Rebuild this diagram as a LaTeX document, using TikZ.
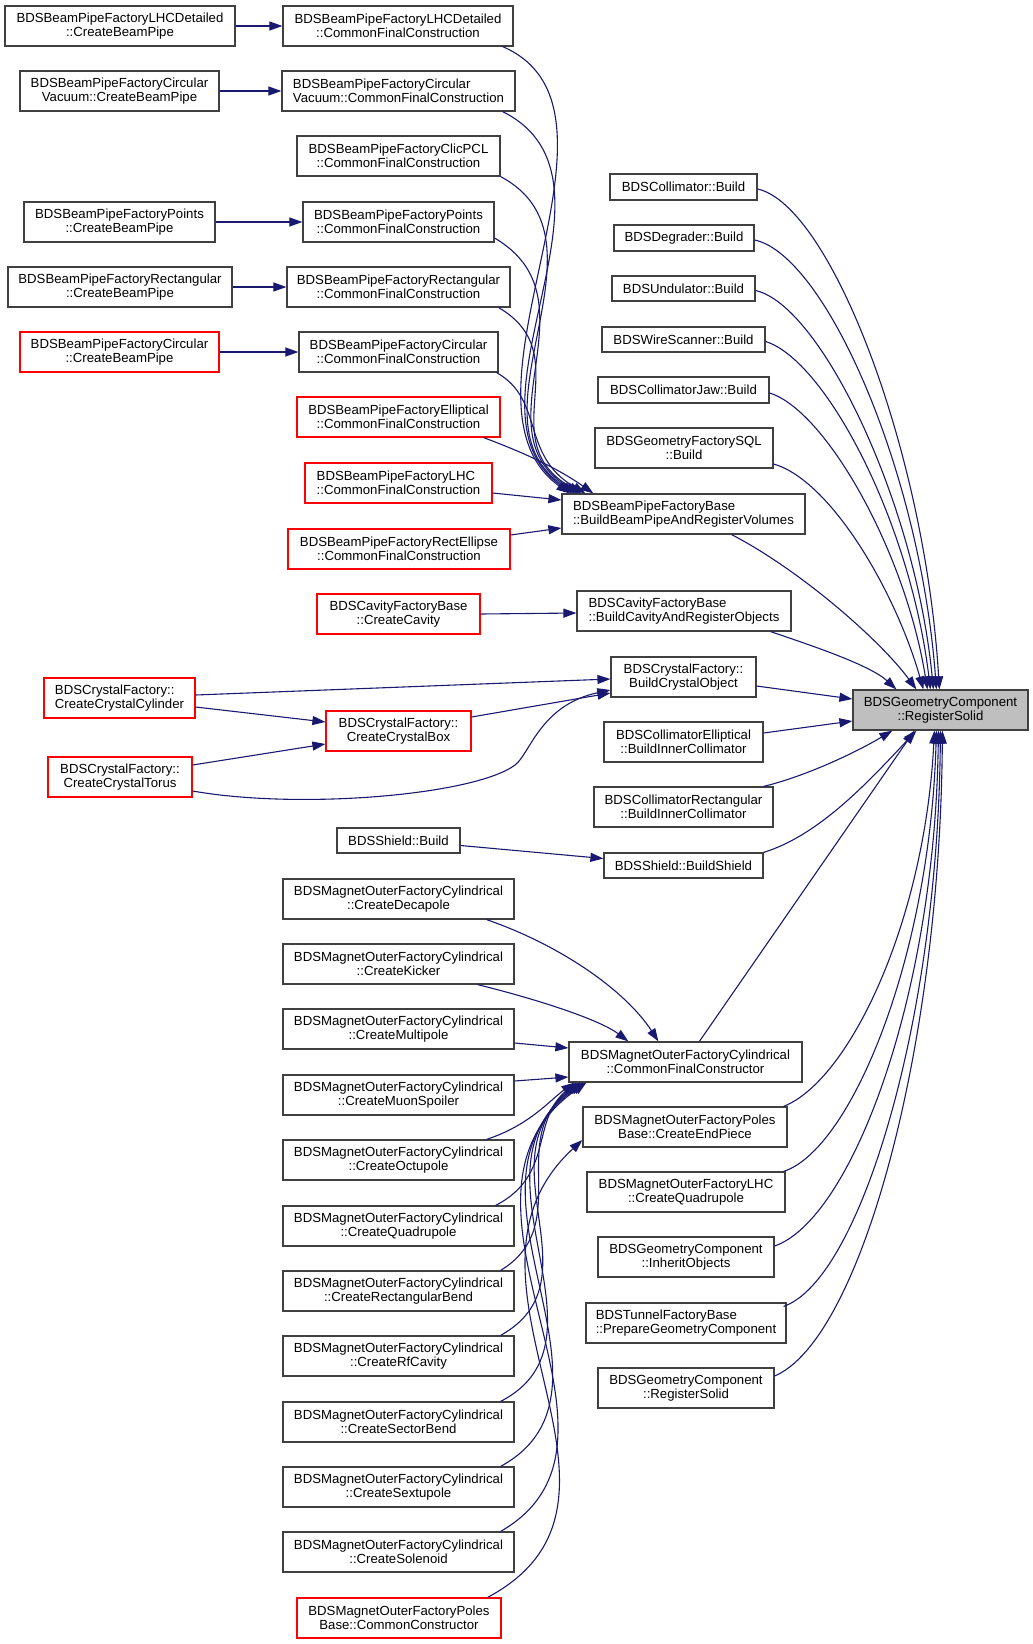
\documentclass[tikz,border=0pt]{standalone}
\usepackage{fontspec}
\setmainfont{Liberation Sans}
\usetikzlibrary{arrows.meta,calc}
\definecolor{edgeblue}{RGB}{25,25,112}
\definecolor{boxgray}{RGB}{64,64,64}
\definecolor{fillgray}{RGB}{191,191,191}
\definecolor{boxred}{RGB}{255,0,0}
\begin{document}
\begin{tikzpicture}[x=1pt,y=-1pt,
  box/.style={draw=boxgray, line width=1.2pt, fill=white, inner sep=0pt, align=center,
    font=\fontsize{13.2}{14.3}\selectfont, minimum height=40pt},
  rbox/.style={box, draw=boxred},
  gbox/.style={box, fill=fillgray},
  one/.style={minimum height=25pt},
  edge/.style={draw=edgeblue, line width=1.1pt, -{Triangle[length=13pt,width=9pt,fill=edgeblue]}}
]
\useasboundingbox (0,0) rectangle (1033,1644);

% left column
\node[box, minimum width=230pt] (n1) at (120,26) {BDSBeamPipeFactoryLHCDetailed\\::CreateBeamPipe};
\node[box, minimum width=199pt] (n2) at (119.5,91) {BDSBeamPipeFactoryCircular\\Vacuum::CreateBeamPipe};
\node[box, minimum width=191pt] (n3) at (119.5,222) {BDSBeamPipeFactoryPoints\\::CreateBeamPipe};
\node[box, minimum width=224pt] (n4) at (120,287) {BDSBeamPipeFactoryRectangular\\::CreateBeamPipe};
\node[rbox, minimum width=199pt] (n5) at (119.5,352) {BDSBeamPipeFactoryCircular\\::CreateBeamPipe};
\node[rbox, minimum width=151pt, align=left] (n6) at (119.5,698) {BDSCrystalFactory::\\CreateCrystalCylinder};
\node[rbox, minimum width=144pt] (n7) at (120,777) {BDSCrystalFactory::\\CreateCrystalTorus};

% middle column
\node[box, minimum width=230pt] (m1) at (398,26) {BDSBeamPipeFactoryLHCDetailed\\::CommonFinalConstruction};
\node[box, minimum width=233pt, align=left] (m2) at (398.5,91) {BDSBeamPipeFactoryCircular\\Vacuum::CommonFinalConstruction};
\node[box, minimum width=203pt] (m3) at (398.5,156) {BDSBeamPipeFactoryClicPCL\\::CommonFinalConstruction};
\node[box, minimum width=191pt] (m4) at (398.5,222) {BDSBeamPipeFactoryPoints\\::CommonFinalConstruction};
\node[box, minimum width=223pt] (m5) at (398.5,287) {BDSBeamPipeFactoryRectangular\\::CommonFinalConstruction};
\node[box, minimum width=199pt] (m6) at (398.5,352) {BDSBeamPipeFactoryCircular\\::CommonFinalConstruction};
\node[rbox, minimum width=203pt] (m7) at (398.5,417) {BDSBeamPipeFactoryElliptical\\::CommonFinalConstruction};
\node[rbox, minimum width=187pt, align=left] (m8) at (398.5,483) {BDSBeamPipeFactoryLHC\\::CommonFinalConstruction};
\node[rbox, minimum width=222pt] (m9) at (399,549) {BDSBeamPipeFactoryRectEllipse\\::CommonFinalConstruction};
\node[rbox, minimum width=163pt] (m10) at (398.5,614) {BDSCavityFactoryBase\\::CreateCavity};
\node[rbox, minimum width=145pt] (m11) at (398.5,731) {BDSCrystalFactory::\\CreateCrystalBox};
\node[box, one, minimum width=123pt] (m12) at (398.5,840.5) {BDSShield::Build};
\node[box, minimum width=231pt] (m13) at (398.5,899) {BDSMagnetOuterFactoryCylindrical\\::CreateDecapole};
\node[box, minimum width=231pt] (m14) at (398.5,964) {BDSMagnetOuterFactoryCylindrical\\::CreateKicker};
\node[box, minimum width=231pt] (m15) at (398.5,1029) {BDSMagnetOuterFactoryCylindrical\\::CreateMultipole};
\node[box, minimum width=231pt] (m16) at (398.5,1095) {BDSMagnetOuterFactoryCylindrical\\::CreateMuonSpoiler};
\node[box, minimum width=231pt] (m17) at (398.5,1160) {BDSMagnetOuterFactoryCylindrical\\::CreateOctupole};
\node[box, minimum width=231pt] (m18) at (398.5,1226) {BDSMagnetOuterFactoryCylindrical\\::CreateQuadrupole};
\node[box, minimum width=231pt] (m19) at (398.5,1291) {BDSMagnetOuterFactoryCylindrical\\::CreateRectangularBend};
\node[box, minimum width=231pt] (m20) at (398.5,1356) {BDSMagnetOuterFactoryCylindrical\\::CreateRfCavity};
\node[box, minimum width=231pt] (m21) at (398.5,1422) {BDSMagnetOuterFactoryCylindrical\\::CreateSectorBend};
\node[box, minimum width=231pt] (m22) at (398.5,1487) {BDSMagnetOuterFactoryCylindrical\\::CreateSextupole};
\node[box, minimum width=231pt] (m23) at (398.5,1552) {BDSMagnetOuterFactoryCylindrical\\::CreateSolenoid};
\node[rbox, minimum width=204pt] (m24) at (399,1618) {BDSMagnetOuterFactoryPoles\\Base::CommonConstructor};

% right column
\node[box, minimum height=26pt, minimum width=147pt] (r1) at (683.5,187) {BDSCollimator::Build};
\node[box, minimum height=26pt, minimum width=140pt] (r2) at (684,238) {BDSDegrader::Build};
\node[box, one, minimum width=143pt] (r3) at (683.5,288.5) {BDSUndulator::Build};
\node[box, one, minimum width=163pt] (r4) at (683.5,339.5) {BDSWireScanner::Build};
\node[box, minimum height=26pt, minimum width=171pt] (r5) at (683.5,390) {BDSCollimatorJaw::Build};
\node[box, minimum width=178pt] (r6) at (684,448) {BDSGeometryFactorySQL\\::Build};
\node[box, minimum width=243pt, align=left] (r7) at (683.5,514) {BDSBeamPipeFactoryBase\\::BuildBeamPipeAndRegisterVolumes};
\node[box, minimum width=214pt, align=left] (r8) at (684,611) {BDSCavityFactoryBase\\::BuildCavityAndRegisterObjects};
\node[box, minimum width=145pt] (r9) at (683.5,677) {BDSCrystalFactory::\\BuildCrystalObject};
\node[box, minimum width=159pt] (r10) at (683.5,742) {BDSCollimatorElliptical\\::BuildInnerCollimator};
\node[box, minimum width=179pt] (r11) at (683.5,807) {BDSCollimatorRectangular\\::BuildInnerCollimator};
\node[box, one, minimum width=159pt] (r12) at (683.5,865.5) {BDSShield::BuildShield};
\node[box, minimum width=233pt] (r13) at (685.5,1062) {BDSMagnetOuterFactoryCylindrical\\::CommonFinalConstructor};
\node[box, minimum width=204pt] (r14) at (685,1127) {BDSMagnetOuterFactoryPoles\\Base::CreateEndPiece};
\node[box, minimum width=198pt] (r15) at (686,1192) {BDSMagnetOuterFactoryLHC\\::CreateQuadrupole};
\node[box, minimum width=176pt] (r16) at (686,1257) {BDSGeometryComponent\\::InheritObjects};
\node[box, minimum width=200pt, align=left] (r17) at (686,1323) {BDSTunnelFactoryBase\\::PrepareGeometryComponent};
\node[box, minimum width=176pt] (r18) at (686,1388) {BDSGeometryComponent\\::RegisterSolid};

\node[gbox, minimum width=175pt] (g) at (940.5,710) {BDSGeometryComponent\\::RegisterSolid};

% left -> middle
\draw[edge] (n1.east) -- (m1.west);
\draw[edge] (n2.east) -- (m2.west);
\draw[edge] (n3.east) -- (m4.west);
\draw[edge] (n4.east) -- (m5.west);
\draw[edge] (n5.east) -- (m6.west);

% -> BuildBeamPipeAndRegisterVolumes
\draw[edge] ($(m1.south east)+(-11,0)$) .. controls (650,110) and (440,400) .. ($(r7.north west)+(8,0)$);
\draw[edge] ($(m2.south east)+(-13,0)$) .. controls (640,180) and (450,410) .. ($(r7.north west)+(11,0)$);
\draw[edge] (m3.south east) .. controls (620,240) and (460,420) .. ($(r7.north west)+(14,0)$);
\draw[edge] ($(m4.east)+(0,16)$) .. controls (600,300) and (475,430) .. ($(r7.north west)+(17,0)$);
\draw[edge] ($(m5.south east)+(-12,0)$) .. controls (580,355) and (490,440) .. ($(r7.north west)+(20,0)$);
\draw[edge] ($(m6.south east)+(-2,0)$) .. controls (545,400) and (520,455) .. ($(r7.north west)+(24,0)$);
\draw[edge] ($(m7.south east)+(-17,0)$) .. controls (530,455) and (560,470) .. ($(r7.north west)+(32,0)$);
\draw[edge] ($(m8.east)+(0,10)$) -- ($(r7.west)+(0,-14)$);
\draw[edge] ($(m9.east)+(0,-14)$) -- ($(r7.west)+(0,14)$);

% cavity
\draw[edge] (m10.east) -- ($(r8.west)+(0,2)$);

% crystal
\draw[edge] ($(n6.east)+(0,-3)$) -- ($(r9.west)+(0,2)$);
\draw[edge] ($(n6.east)+(0,9)$) -- ($(m11.west)+(0,-9)$);
\draw[edge] ($(n7.east)+(0,-12)$) -- ($(m11.west)+(0,13)$);
\draw[edge] ($(m11.east)+(0,-14)$) -- ($(r9.west)+(0,16)$);
\draw[edge] ($(n7.east)+(0,14)$) .. controls (300,810) and (475,795) .. (515,765)
   .. controls (530,754) and (540,705) .. ($(r9.west)+(0,13)$);

% shield
\draw[edge] ($(m12.east)+(0,5)$) -- ($(r12.west)+(0,-7)$);

% -> CommonFinalConstructor
\draw[edge] ($(m13.south east)+(-28,0)$) .. controls (560,945) and (625,990) .. ($(r13.north west)+(90,0)$);
\draw[edge] ($(m14.south east)+(-37,0)$) .. controls (540,1000) and (600,1020) .. ($(r13.north west)+(60,0)$);
\draw[edge] ($(m15.east)+(0,14)$) -- ($(r13.west)+(0,-14)$);
\draw[edge] ($(m16.east)+(0,-14)$) -- ($(r13.west)+(0,15)$);
\draw[edge] ($(m17.north east)+(-28,0)$) .. controls (530,1125) and (550,1100) .. ($(r13.south west)+(6,0)$);
\draw[edge] ($(m18.north east)+(-19,0)$) .. controls (555,1175) and (530,1120) .. ($(r13.south west)+(8,0)$);
\draw[edge] ($(m19.north east)+(-14,0)$) .. controls (575,1225) and (505,1140) .. ($(r13.south west)+(10,0)$);
\draw[edge] ($(m20.north east)+(-14,0)$) .. controls (600,1280) and (480,1160) .. ($(r13.south west)+(12,0)$);
\draw[edge] ($(m21.north east)+(-14,0)$) .. controls (620,1340) and (460,1170) .. ($(r13.south west)+(14,0)$);
\draw[edge] ($(m22.north east)+(-14,0)$) .. controls (640,1390) and (440,1185) .. ($(r13.south west)+(16,0)$);
\draw[edge] ($(m23.north east)+(-14,0)$) .. controls (660,1440) and (420,1200) .. ($(r13.south west)+(18,0)$);
\draw[edge] ($(m24.north east)+(-14,0)$) .. controls (670,1500) and (430,1280) .. ($(r14.west)+(0,13)$);

% -> RegisterSolid (focus)
\draw[edge] ($(r1.east)+(0,2)$) .. controls (830,205) and (925,450) .. ($(g.north west)+(87,0)$);
\draw[edge] ($(r2.east)+(0,2)$) .. controls (825,255) and (920,470) .. ($(g.north west)+(84,0)$);
\draw[edge] ($(r3.east)+(0,2)$) .. controls (820,305) and (915,500) .. ($(g.north west)+(81,0)$);
\draw[edge] ($(r4.east)+(0,2)$) .. controls (825,360) and (910,520) .. ($(g.north west)+(78,0)$);
\draw[edge] ($(r5.east)+(0,3)$) .. controls (825,410) and (905,550) .. ($(g.north west)+(75,0)$);
\draw[edge] ($(r6.east)+(0,16)$) .. controls (830,480) and (895,590) .. ($(g.north west)+(71,0)$);
\draw[edge] ($(r7.south east)+(-74,0)$) .. controls (800,570) and (880,640) .. ($(g.north west)+(64,0)$);
\draw[edge] ($(r8.south east)+(-21,0)$) .. controls (810,645) and (870,665) .. ($(g.north west)+(44,0)$);
\draw[edge] ($(r9.east)+(0,9)$) -- ($(g.west)+(0,-11)$);
\draw[edge] ($(r10.east)+(0,-9)$) -- ($(g.west)+(0,11)$);
\draw[edge] ($(r11.north east)+(-10,0)$) .. controls (810,775) and (860,750) .. ($(g.south west)+(40,0)$);
\draw[edge] (r12.north east) .. controls (820,835) and (870,780) .. ($(g.south west)+(64,0)$);
\draw[edge] ($(r13.north west)+(131,0)$) -- ($(g.south west)+(62,0)$);
\draw[edge] ($(r14.north east)+(-4,0)$) .. controls (850,1080) and (925,920) .. ($(g.south west)+(82,0)$);
\draw[edge] ($(r15.north east)+(-2,0)$) .. controls (850,1150) and (930,960) .. ($(g.south west)+(84,0)$);
\draw[edge] ($(r16.east)+(0,-11)$) .. controls (850,1220) and (935,1000) .. ($(g.south west)+(86,0)$);
\draw[edge] ($(r17.north east)+(-3,4)$) .. controls (860,1280) and (938,1020) .. ($(g.south west)+(88,0)$);
\draw[edge] ($(r18.east)+(0,-12)$) .. controls (860,1340) and (940,1050) .. ($(g.south west)+(90,0)$);
\end{tikzpicture}
\end{document}
